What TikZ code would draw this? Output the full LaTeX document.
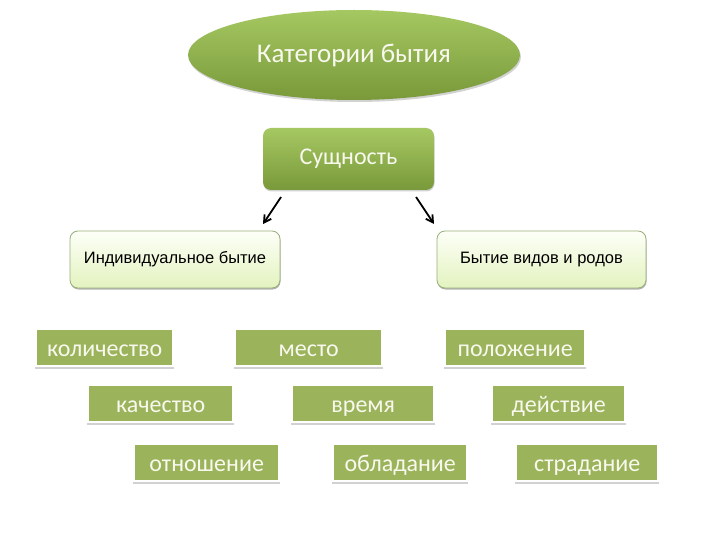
\documentclass[tikz,border=0pt]{standalone}
\usepackage{fontspec}
\setmainfont{Carlito}
\newfontfamily\arialf{Liberation Sans}
\usetikzlibrary{shapes.geometric,shadows,arrows.meta}
\definecolor{olive}{HTML}{9BB35A}
\definecolor{olivetop}{HTML}{A6C862}
\definecolor{olivebot}{HTML}{79993A}
\definecolor{lighttop}{HTML}{FDFFF8}
\definecolor{lightbot}{HTML}{E3F3BF}
\definecolor{lightedge}{HTML}{9AAE78}
\definecolor{txtw}{HTML}{F8F8EE}
\newcommand{\lowstrut}{\rule{0pt}{23pt}\rule[-5pt]{0pt}{5pt}}
\begin{document}
\begin{tikzpicture}[x=1pt,y=-1pt,
  cat/.style={fill=olive,text=txtw,font=\fontsize{24}{28}\selectfont,inner sep=0pt,minimum height=35pt,anchor=north west},
  shad/.style={draw=black!18,line width=1.2pt},
  lightbox/.style={rounded corners=8pt,top color=lighttop,bottom color=lightbot,draw=lightedge,line width=0.8pt,
     font=\arialf\fontsize{16.5}{19}\selectfont,minimum height=57pt,
     drop shadow={shadow xshift=0.5pt,shadow yshift=-1.5pt,opacity=0.5,fill=black!60}},
  arr/.style={-{Straight Barb[length=7pt,width=8pt]},line width=1.8pt}]
\useasboundingbox (0,0) rectangle (720,540);
\fill[white] (0,0) rectangle (720,540);
% title ellipse
\node[ellipse,top color=olivetop,bottom color=olivebot,minimum width=332pt,minimum height=90pt,
  text=txtw,font=\fontsize{27}{32}\selectfont,
  drop shadow={shadow xshift=1pt,shadow yshift=-2pt,opacity=0.35,fill=black!50}] (t) at (354,55) {Категории бытия};
% essence box
\node[rounded corners=8pt,top color=olivetop,bottom color=olivebot,minimum width=171pt,minimum height=62pt,
  text=txtw,font=\fontsize{24}{28}\selectfont,
  drop shadow={shadow xshift=0.5pt,shadow yshift=-1.5pt,opacity=0.35,fill=black!50}] (s) at (348.5,159) {Сущность};
% two light boxes
\node[lightbox,minimum width=210pt] (ind) at (175,259.5) {Индивидуальное бытие};
\node[lightbox,minimum width=209pt] (gen) at (541.5,259.5) {Бытие видов и родов};
% arrows
\coordinate (a1) at (281,197); \coordinate (a2) at (263,224);
\coordinate (b1) at (416,197); \coordinate (b2) at (434,224);
\draw[arr] (a1) -- (a2);
\draw[arr] (b1) -- (b2);
% category boxes with shadow lines
\foreach \name/\x/\y/\w/\t in {
  k1/37/330/135/количество, k2/236/330/145/место, k3/446/330/138/положение,
  k4/89/386/143/качество, k5/293/386/140/время, k6/493/386/131/действие,
  k7/135/445/143/отношение, k8/334/445/132/обладание, k9/517/445/140/страдание}{
  \draw[shad] (\x-2,\y+38) -- (\x+\w+2,\y+38);
  \node[cat,minimum width=\w pt] (\name) at (\x,\y) {\lowstrut\t};
}
\end{tikzpicture}
\end{document}
